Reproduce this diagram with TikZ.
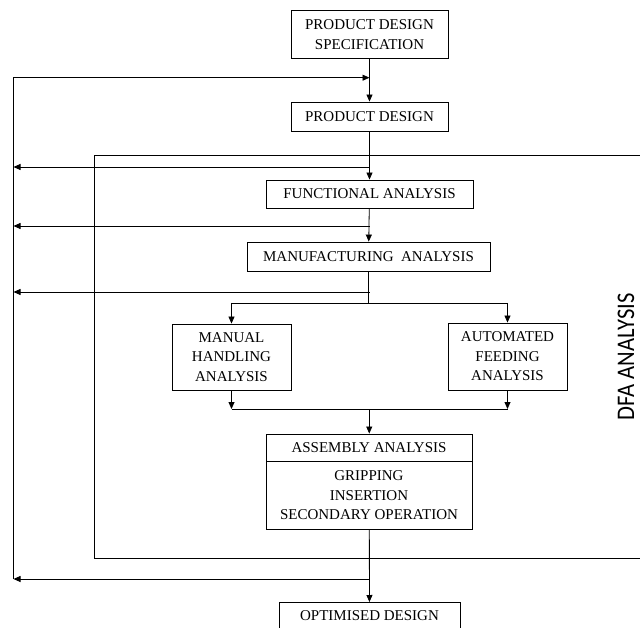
\documentclass[tikz,border=0pt]{standalone}
\usepackage{fontspec}
\setmainfont{Liberation Serif}
\newfontfamily\dfafont{Carlito}
\usetikzlibrary{arrows.meta}
\begin{document}
\begin{tikzpicture}[x=1pt,y=-1pt,
  box/.style={draw, line width=0.9pt, inner sep=0pt, align=center,
    font=\fontsize{15}{19.4}\selectfont},
  lbl/.style={inner sep=0pt, align=center, font=\fontsize{15}{19.4}\selectfont},
  conn/.style={line width=0.8pt},
  arr/.style={conn, -{Triangle[length=7pt,width=6pt]}}]
\clip (0,0) rectangle (640,628);
\useasboundingbox (0,0) rectangle (640,628);
% DFA frame
\draw[line width=0.9pt] (94,155) rectangle (660,558);
\node[rotate=90, inner sep=0pt, font=\dfafont\fontsize{22.6}{26}\selectfont] (dfa) at (626,357) {\scalebox{1}[1.12]{DFA ANALYSIS}};
% boxes
\node[box, minimum width=157, minimum height=48.5] (pds) at (369.5,34.5) {PRODUCT DESIGN\\SPECIFICATION};
\node[box, minimum width=157, minimum height=29] (pd) at (369.5,116.5) {PRODUCT DESIGN};
\node[box, minimum width=207, minimum height=28] (fa) at (369.5,194) {FUNCTIONAL ANALYSIS};
\node[box, minimum width=243, minimum height=29] (ma) at (368.5,256.5) {MANUFACTURING\ \ ANALYSIS};
\node[box, minimum width=119, minimum height=66] (man) at (231.5,357) {MANUAL\\HANDLING\\ANALYSIS};
\node[box, minimum width=119, minimum height=67] (aut) at (507.5,356.5) {AUTOMATED\\FEEDING\\ANALYSIS};
\node[box, minimum width=205.5, minimum height=95] (asm) at (369.25,481.5) {};
\node[lbl] (asmt) at (369,448) {ASSEMBLY ANALYSIS};
\node[lbl] (asmb) at (369,495.5) {GRIPPING\\INSERTION\\SECONDARY OPERATION};
\draw[line width=0.9pt] ([yshift=-28pt]asm.north west) -- ([yshift=-28pt]asm.north east);
\node[box, minimum width=181, minimum height=60, anchor=north] (opt) at (369.5,602) {};
\node[lbl] (optt) at (369.5,616) {OPTIMISED DESIGN};
% junction coordinates
\coordinate (fbtop) at (369.5,77.7);
\coordinate (fbl) at (13.5,77.7);
\coordinate (j1) at (369.5,167);
\coordinate (j2) at (369.5,226);
\coordinate (j3) at (369.5,292);
\coordinate (j4) at (369.5,579);
\coordinate (l1) at (13.5,167);
\coordinate (l2) at (13.5,226);
\coordinate (l3) at (13.5,292);
\coordinate (l4) at (13.5,579);
\coordinate (br) at (368.5,303);
\coordinate (brl) at (231.5,303);
\coordinate (brr) at (507.5,303);
\coordinate (mgl) at (231.5,409);
\coordinate (mgr) at (507.5,409);
\coordinate (mg) at (369.25,409);
% main flow
\draw[arr] (pds) -- (pd);
\draw[arr] (pd) -- (fa);
\draw[arr] (fa) -- (ma);
\draw[conn] (ma) -- (br);
\draw[conn] (brl) -- (brr);
\draw[arr] (brl) -- (man);
\draw[arr] (brr) -- (aut);
\draw[arr] (man) -- (mgl);
\draw[arr] (aut) -- (mgr);
\draw[conn] (mgl) -- (mgr);
\draw[arr] (mg) -- (asm);
\draw[arr] (asm) -- (opt);
% feedback
\draw[arr] (l4) -- (fbl) -- (fbtop);
\draw[arr] (j1) -- (l1);
\draw[arr] (j2) -- (l2);
\draw[arr] (j3) -- (l3);
\draw[arr] (j4) -- (l4);
\end{tikzpicture}
\end{document}
